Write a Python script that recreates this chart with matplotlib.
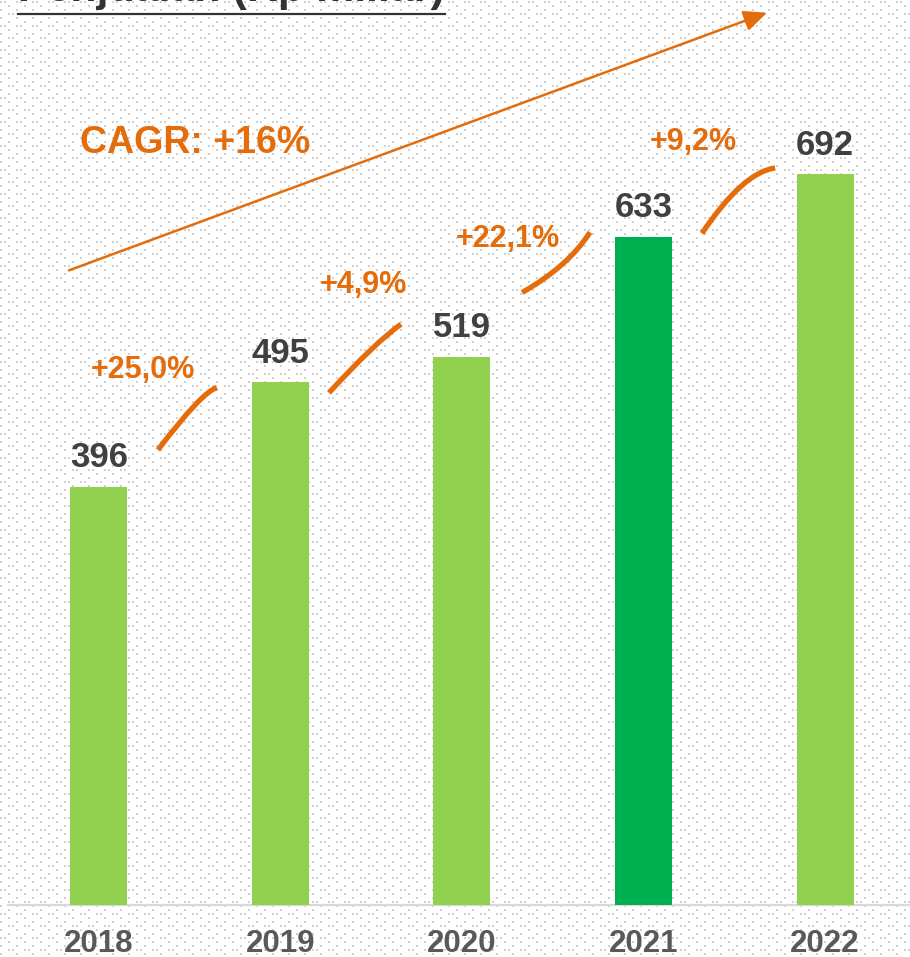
import numpy as np
import matplotlib
matplotlib.use("Agg")
from matplotlib import pyplot as plt
from matplotlib.path import Path
from matplotlib.patches import PathPatch
from matplotlib.lines import Line2D

plt.rcParams["font.family"] = ["Liberation Sans", "DejaVu Sans"]

# data
years = ["2018", "2019", "2020", "2021", "2022"]
sales = [396, 495, 519, 633, 692]
growth = ["+25,0%", "+4,9%", "+22,1%", "+9,2%"]
cagr = "CAGR: +16%"
title = "Penjualan (Rp miliar)"
highlight = "2021"

LIGHT = "#92D050"
DARK = "#00B050"
ORANGE = "#E46C0A"
TXT = "#404040"

W, H = 910, 957
fig = plt.figure(figsize=(W / 100, H / 100), dpi=100)

# dotted background
bg = np.ones((H, W, 3))
for r, y in enumerate(range(1, H, 4)):
    off = 8 * (r % 2)
    for x in range(off, W, 16):
        bg[y:y + 2, x:x + 2] = 0.82
    for x in range(off + 4, W, 16):
        if r % 3 == 0:
            bg[y:y + 2, x:x + 2] = 0.82
fig.figimage(bg, 0, 0, zorder=-5)

ax = fig.add_axes([8 / W, 1 - 905 / H, 902 / W, 905 / H])
ax.set_facecolor("none")
ax.patch.set_alpha(0)
ax.set_xlim(-0.501, 4.468)
ax.set_ylim(0, 857)
for s in ax.spines.values():
    s.set_visible(False)
ax.set_yticks([])

x = np.arange(len(years))
colors = [DARK if y == highlight else LIGHT for y in years]
ax.bar(x, sales, width=0.314, color=colors, zorder=2)
ax.axhline(0, color="#D9D9D9", lw=1.6, zorder=1, clip_on=False)

ax.set_xticks(x, years)
ax.tick_params(axis="x", length=0, pad=17, labelsize=22.5, labelcolor="#595959")
for t in ax.get_xticklabels():
    t.set_fontweight("bold")

for xi, v in zip(x, sales):
    ax.annotate(str(v), (xi, v), xytext=(0, 9), textcoords="offset points",
                ha="center", va="bottom", fontsize=25, fontweight="bold", color=TXT)

# growth labels and connector arcs (layout positions in data units)
growth_pos = [(0.242, 507), (1.455, 587), (2.253, 631), (3.273, 723)]
for lbl, (gx, gy) in zip(growth, growth_pos):
    ax.text(gx, gy, lbl, ha="center", va="center", fontsize=22, fontweight="bold",
            color=ORANGE)

arcs = [
    [(0.325, 431), (0.568, 486), (0.650, 490)],
    [(1.267, 485), (1.523, 533), (1.664, 550)],
    [(2.331, 580), (2.587, 605), (2.705, 637)],
    [(3.322, 636), (3.548, 694), (3.725, 698)],
]
for pts in arcs:
    p = Path(pts, [Path.MOVETO, Path.CURVE3, Path.CURVE3])
    ax.add_patch(PathPatch(p, fill=False, ec=ORANGE, lw=3.8, capstyle="butt", zorder=3))

# CAGR arrow
ax.annotate("", xy=(3.68, 845), xytext=(-0.165, 601),
            arrowprops=dict(arrowstyle="-|>,head_length=1.0,head_width=0.45",
                            color=ORANGE, lw=1.8, shrinkA=0, shrinkB=0,
                            mutation_scale=14),
            annotation_clip=False)
ax.text(0.529, 722, cagr, ha="center", va="center", fontsize=27,
        fontweight="bold", color=ORANGE)

# title, cut off at the top edge like the source slide
fig.text(18 / W, 1 - 0.5 / H, title, ha="left", va="baseline", fontsize=31,
         fontweight="bold", color="#333333")
fig.add_artist(Line2D([18 / W, 445 / W], [1 - 13.5 / H] * 2, color="#333333", lw=1.6))

fig.savefig("out.png", dpi=100)
